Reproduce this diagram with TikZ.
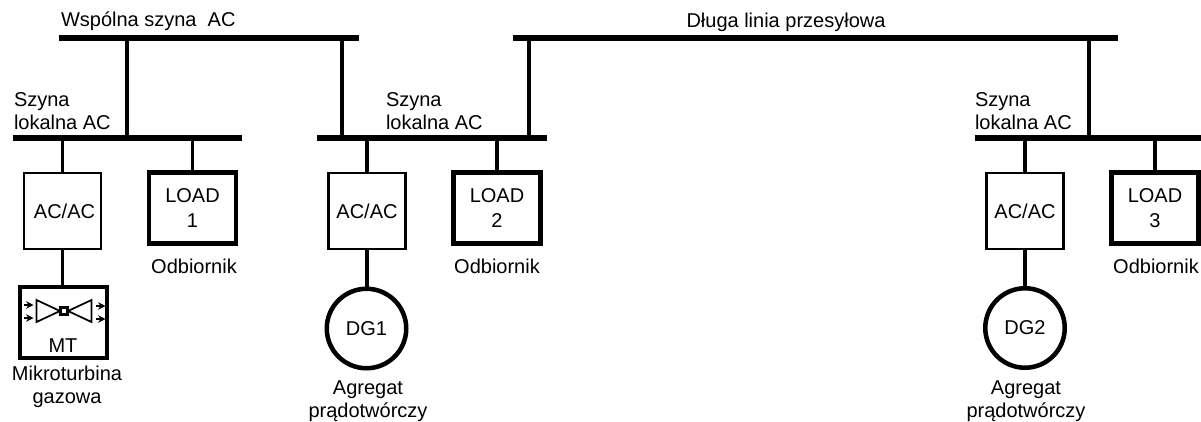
\documentclass[tikz,border=0pt]{standalone}
\usepackage{fontspec}
\setmainfont{Liberation Sans}
\usetikzlibrary{arrows.meta}
\tikzset{x=0.75pt,y=-0.75pt,
 bus/.style={fill=black,draw=none,minimum height=4.5pt,inner sep=0pt,outer sep=0pt},
 wire/.style={line width=2.9pt},
 thinwire/.style={line width=2.5pt},
 conv/.style={draw,line width=1.8pt,minimum width=57.5pt,minimum height=57.2pt,inner sep=0pt,outer sep=0pt,font=\fontsize{15}{18}\selectfont,align=center},
 loadbox/.style={draw,line width=3.4pt,minimum width=65pt,minimum height=53.6pt,inner sep=0pt,outer sep=0pt,font=\fontsize{15}{19}\selectfont,align=center},
 gen/.style={draw,circle,line width=3.4pt,minimum size=59.6pt,inner sep=0pt,outer sep=0pt,font=\fontsize{15}{18}\selectfont},
 lbl/.style={inner sep=0pt,outer sep=0pt,font=\fontsize{15}{17.5}\selectfont,align=center},
 lbll/.style={inner sep=0pt,outer sep=0pt,font=\fontsize{15}{17.5}\selectfont,align=left,anchor=west},
 garrow/.style={line width=1.4pt,-{Stealth[length=5.5pt,width=5.5pt]}},
 turb/.style={line width=1.3pt},
}
\begin{document}
\begin{tikzpicture}
\useasboundingbox (0,0) rectangle (1201,421);
% buses
\node[bus,minimum width=225pt] (cb) at (209,38.3) {};
\node[bus,minimum width=453.75pt] (ln) at (815.5,38.3) {};
\node[bus,minimum width=171.75pt] (b1) at (127.5,138.3) {};
\node[bus,minimum width=172.5pt] (b2) at (432,138.3) {};
\node[bus,minimum width=169.5pt] (b3) at (1088,138.3) {};
% boxes
\node[conv] (c1) at (62.5,211) {\hspace*{3pt}AC/AC};
\node[conv] (c2) at (367,211) {AC/AC};
\node[conv] (c3) at (1025,211) {AC/AC};
\node[loadbox] (l1) at (192.5,208) {LOAD\\1};
\node[loadbox] (l2) at (497,208) {LOAD\\2};
\node[loadbox] (l3) at (1155,208) {LOAD\\3};
\node[loadbox,minimum height=53pt] (mt) at (63.5,322.5) {};
\node[gen] (dg1) at (366.5,328.5) {DG1};
\node[gen] (dg2) at (1025,328) {DG2};
% connector positions
\coordinate (j1) at (127,0);
\coordinate (j2) at (342,0);
\coordinate (j3) at (529,0);
\coordinate (j4) at (1089,0);
% connectors
\draw[wire] (j1 |- cb) -- (j1 |- b1);
\draw[thinwire] (j2 |- cb) -- (j2 |- b2);
\draw[thinwire] (j3 |- ln) -- (j3 |- b2);
\draw[thinwire] (j4 |- ln) -- (j4 |- b3);
\draw[thinwire] (c1 |- b1) -- (c1.north);
\draw[thinwire] (l1 |- b1) -- (l1.north);
\draw[thinwire] (c2 |- b2) -- (c2.north);
\draw[thinwire] (l2 |- b2) -- (l2.north);
\draw[thinwire] (c3 |- b3) -- (c3.north);
\draw[thinwire] (l3 |- b3) -- (l3.north);
\draw[thinwire] (c1.south) -- (c1.south |- mt.north);
\draw[thinwire] (c2.south) -- (c2.south |- dg1.north);
\draw[thinwire] (c3.south) -- (dg2.north);
% turbine
\draw[turb] (36.5,300) -- (36.5,322) -- (60,311) -- cycle;
\draw[turb] (91.5,300) -- (91.5,322) -- (68,311) -- cycle;
\draw[line width=1.9pt] (60.5,307.5) rectangle (67.5,314.5);
\draw[garrow] (24,305) -- (33.5,305);
\draw[garrow] (24,318) -- (33.5,318);
\draw[garrow] (96,306) -- (105.5,306);
\draw[garrow] (96,319) -- (105.5,319);
% labels
\node[lbl] (mtl) at (63,346) {MT};
\node[lbll] (t1) at (61,21) {Wspólna szyna\ \ AC};
\node[lbl] (t2) at (786,22) {Długa linia przesyłowa};
\node[lbll] (s1) at (14,111) {Szyna\\lokalna AC};
\node[lbll] (s2) at (386,111) {Szyna\\lokalna AC};
\node[lbll] (s3) at (975,111) {Szyna\\lokalna AC};
\node[lbl] (o1) at (194,266) {Odbiornik};
\node[lbl] (o2) at (497,266) {Odbiornik};
\node[lbl] (o3) at (1156,266) {Odbiornik};
\node[lbl] (m) at (67,387) {Mikroturbina\\gazowa};
\node[lbl] (a1) at (368,401) {Agregat\\prądotwórczy};
\node[lbl] (a2) at (1026,401) {Agregat\\prądotwórczy};
\end{tikzpicture}
\end{document}
